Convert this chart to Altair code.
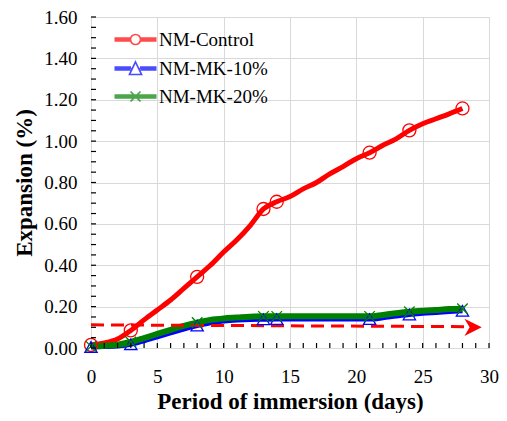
import altair as alt
import pandas as pd

# ---------------- data ----------------
days = list(range(0, 29))
series_names = ["NM-Control", "NM-MK-10%", "NM-MK-20%"]
colors = ["#ff0000", "#0000ff", "#008000"]

nm_control = [0.015, 0.024, 0.043, 0.085, 0.136, 0.184, 0.232, 0.288, 0.344, 0.400,
              0.464, 0.523, 0.592, 0.672, 0.707, 0.732, 0.769, 0.800, 0.842, 0.877,
              0.915, 0.944, 0.980, 1.011, 1.052, 1.084, 1.108, 1.132, 1.158]
nm_mk10 = [0.005, 0.007, 0.010, 0.018, 0.035, 0.054, 0.073, 0.092, 0.108, 0.122,
           0.130, 0.135, 0.138, 0.139, 0.140, 0.140, 0.140, 0.140, 0.140, 0.140,
           0.140, 0.140, 0.146, 0.155, 0.162, 0.168, 0.172, 0.176, 0.180]
nm_mk20 = [0.008, 0.011, 0.016, 0.029, 0.048, 0.068, 0.088, 0.107, 0.123, 0.136,
           0.143, 0.147, 0.151, 0.153, 0.153, 0.153, 0.153, 0.153, 0.153, 0.153,
           0.153, 0.153, 0.160, 0.168, 0.175, 0.180, 0.184, 0.188, 0.190]
marker_days = [0, 3, 8, 13, 14, 21, 24, 28]

arrow_days = [0, 28.5]
arrow_vals = [0.112, 0.103]
arrow_head_day = [28.8]
arrow_head_val = [0.100]

x_tick_days = list(range(0, 31))
y_tick_vals = [round(i * 0.05, 2) for i in range(0, 33)]
y_label_vals = [0, 0.2, 0.4, 0.6, 0.8, 1.0, 1.2, 1.4, 1.6]
x_label_vals = [0, 5, 10, 15, 20, 25, 30]

# ---------------- tables ----------------
all_series = [nm_control, nm_mk10, nm_mk20]
line_rows = []
for name, vals in zip(series_names, all_series):
    for d, v in zip(days, vals):
        line_rows.append({"day": d, "exp": v, "series": name})
lines_df = pd.DataFrame(line_rows)
markers_df = lines_df[lines_df["day"].isin(marker_days)].copy()

arrow_df = pd.DataFrame({"day": arrow_days, "exp": arrow_vals})
head_df = pd.DataFrame({"day": arrow_head_day, "exp": arrow_head_val})
xt_df = pd.DataFrame({"day": x_tick_days})
yt_df = pd.DataFrame({"exp": y_tick_vals})

W, H = 398, 331
FONT = "Times New Roman, Liberation Serif, serif"

xscale = alt.Scale(domain=[0, 30], nice=False)
yscale = alt.Scale(domain=[0, 1.6], nice=False)

x_axis = alt.Axis(values=x_label_vals, title="Period of immersion (days)", grid=True,
                  gridColor="#d9d9d9", gridWidth=1, ticks=False, tickSize=0, domain=False,
                  labelPadding=19, titlePadding=4, labelFontSize=19, titleFontSize=23,
                  labelFont=FONT, titleFont=FONT, titleFontWeight="bold",
                  labelFontWeight="normal",
                  labelColor="black", titleColor="black", labelFlush=False)
y_axis = alt.Axis(values=y_label_vals, format=".2f", title="Expansion (%)", grid=True,
                  gridColor="#d9d9d9", gridWidth=1, ticks=False, tickSize=0, domain=False,
                  labelPadding=14, titlePadding=7, labelFontSize=19, titleFontSize=23,
                  labelFont=FONT, titleFont=FONT, titleFontWeight="bold",
                  labelFontWeight="normal",
                  labelColor="black", titleColor="black", labelFlush=False)

# legend symbol paths (unit = 5 px for size 100): thick line + marker
thick_l = "M-4.2,-0.3L-1,-0.3M-4.2,0L-1,0M-4.2,0.3L-1,0.3"
thick_r = "M1,-0.3L4.2,-0.3M1,0L4.2,0M1,0.3L4.2,0.3"
circ = "M1,0A1,1 0 1,1 -1,0A1,1 0 1,1 1,0"
p_ctrl = thick_l + thick_r + circ
thick_l2 = "M-4.2,-0.3L-0.9,-0.3M-4.2,0L-0.8,0M-4.2,0.3L-1.0,0.3"
thick_r2 = "M0.9,-0.3L4.2,-0.3M0.8,0L4.2,0M1.0,0.3L4.2,0.3"
tri = "M0,-1.3L1.2,1.2L-1.2,1.2Z"
p_mk10 = thick_l2 + thick_r2 + tri
thick_full = "M-4.2,-0.3L4.2,-0.3M-4.2,0L4.2,0M-4.2,0.3L4.2,0.3"
xx = "M-1,-1L1,1M-1,1L1,-1"
p_mk20 = thick_full + xx

color_scale = alt.Scale(domain=series_names, range=colors)

legend = alt.Legend(
    title=None, orient="none", legendX=35, legendY=13, labelFont=FONT, labelFontSize=19,
    labelFontWeight="normal",
    labelColor="black", labelOffset=14, rowPadding=8, symbolSize=100, padding=0,
    symbolStrokeWidth=1.7,
)

line_widths = [5, 5, 6]
line_layers = []
for i, (name, col, lw) in enumerate(zip(series_names, colors, line_widths)):
    enc_x = alt.X("day:Q", scale=xscale, axis=x_axis) if i == 0 else alt.X("day:Q", scale=xscale)
    enc_y = alt.Y("exp:Q", scale=yscale, axis=y_axis) if i == 0 else alt.Y("exp:Q", scale=yscale)
    line_layers.append(
        alt.Chart(lines_df).transform_filter(alt.datum.series == name).mark_line(
            interpolate="monotone", color=col, strokeWidth=lw).encode(
            x=enc_x, y=enc_y, order=alt.Order("day:Q"))
    )

# layer without rows that only provides the legend (line + marker symbols)
legend_layer = alt.Chart(markers_df).transform_filter("false").mark_point(
    filled=False, strokeWidth=1.7, size=100).encode(
    x=alt.X("day:Q", scale=xscale),
    y=alt.Y("exp:Q", scale=yscale),
    color=alt.Color("series:N", scale=color_scale, legend=legend),
    shape=alt.Shape("series:N", scale=alt.Scale(domain=series_names,
                    range=[p_ctrl, p_mk10, p_mk20]), legend=legend),
)

marker_shapes = ["circle", "triangle-up", "M-1,-1L1,1M-1,1L1,-1"]
marker_sizes = [169, 150, 110]
point_layers = []
for name, col, shp, sz in zip(series_names, colors, marker_shapes, marker_sizes):
    point_layers.append(
        alt.Chart(markers_df).transform_filter(alt.datum.series == name).mark_point(
            filled=False, strokeWidth=1.3, opacity=1, shape=shp, size=sz, color=col).encode(
            x=alt.X("day:Q", scale=xscale),
            y=alt.Y("exp:Q", scale=yscale),
        )
    )

arrow = alt.Chart(arrow_df).mark_line(color="#ff0000", strokeWidth=3, strokeDash=[13, 7]).encode(
    x=alt.X("day:Q", scale=xscale),
    y=alt.Y("exp:Q", scale=yscale),
)
head = alt.Chart(head_df).mark_point(shape="M-1,-1L1,0L-1,1L-0.4,0Z", filled=True,
                                     color="#ff0000", size=300, opacity=1).encode(
    x=alt.X("day:Q", scale=xscale),
    y=alt.Y("exp:Q", scale=yscale),
)

xticks = alt.Chart(xt_df).mark_rule(color="black", strokeWidth=1.2).encode(
    x=alt.X("day:Q", scale=xscale),
    y=alt.value(H), y2=alt.value(H - 5),
)
yticks = alt.Chart(yt_df).mark_rule(color="black", strokeWidth=1.2).encode(
    y=alt.Y("exp:Q", scale=yscale),
    x=alt.value(0), x2=alt.value(5),
)

chart = alt.layer(*line_layers, arrow, head, *point_layers, legend_layer, xticks, yticks).properties(
    width=W, height=H,
    autosize=alt.AutoSizeParams(type="none"),
    padding={"left": 83, "top": 9, "right": 10, "bottom": 65},
).configure_view(stroke="black", strokeWidth=2).configure(
    background="white", font=FONT
).configure_axis(labelFont=FONT, titleFont=FONT).configure_legend(labelFont=FONT)

chart.save("out.html", embed_options={"renderer": "svg", "actions": False})
